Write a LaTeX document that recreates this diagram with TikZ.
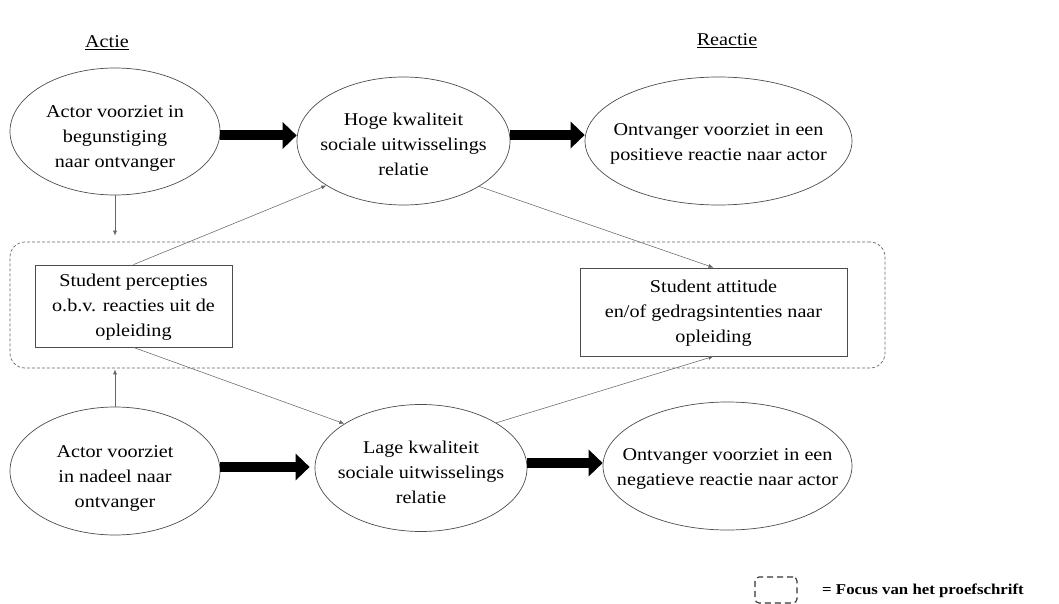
\documentclass[tikz,border=0pt]{standalone}
\usepackage{fontspec}
\setmainfont{Liberation Serif}
\usepackage{graphicx}
\usetikzlibrary{arrows.meta,shapes.geometric,calc}
\newcommand\ml[1]{\scalebox{1.12}[1]{\begin{tabular}{@{}c@{}}#1\end{tabular}}}
\begin{document}
\begin{tikzpicture}[x=1pt,y=-1pt,
 ell/.style={ellipse, draw=black!70, line width=0.7pt, inner sep=0pt},
 bx/.style={rectangle, draw=black!70, line width=0.8pt, inner sep=0pt, font=\fontsize{18}{25}\selectfont},
 txt/.style={inner sep=0pt, font=\fontsize{18}{25}\selectfont},
 big/.style={line width=10pt, -{Triangle[width=26pt,length=14pt]}},
 thinarr/.style={draw=black!60, line width=0.55pt, -{Latex[length=5pt,width=4pt]}},
 ]
\useasboundingbox (0,0) rectangle (1059,604);

% focus frame
\node[draw=black!60, dash pattern=on 3pt off 2pt, rounded corners=15pt, line width=0.7pt,
      minimum width=875pt, minimum height=126pt, inner sep=0pt] (focus) at (447.5,305) {};

% ellipses
\node[ell, minimum width=210pt, minimum height=127pt] (e1) at (115,131.5) {};
\node[ell, minimum width=213pt, minimum height=128pt] (e2) at (403.5,141) {};
\node[ell, minimum width=267pt, minimum height=128pt] (e3) at (718.5,141) {};
\node[ell, minimum width=210pt, minimum height=128pt] (e4) at (115,471) {};
\node[ell, minimum width=212pt, minimum height=127pt] (e5) at (421,468) {};
\node[ell, minimum width=249pt, minimum height=128pt] (e6) at (727.5,466) {};

\node[txt] (t1) at ([yshift=-6pt]e1.center) {\ml{Actor voorziet in\\begunstiging\\naar ontvanger}};
\node[txt] (t2) at ([yshift=-5pt]e2.center) {\ml{Hoge kwaliteit\\sociale uitwisselings\\relatie}};
\node[txt] (t3) at ([yshift=-2pt]e3.center) {\ml{Ontvanger voorziet in een\\positieve reactie naar actor}};
\node[txt] (t4) at ([yshift=-6pt]e4.center) {\ml{Actor voorziet\\in nadeel naar\\ontvanger}};
\node[txt] (t5) at ([yshift=-5pt]e5.center) {\ml{Lage kwaliteit\\sociale uitwisselings\\relatie}};
\node[txt] (t6) at ([yshift=-2pt]e6.center) {\ml{Ontvanger voorziet in een\\negatieve reactie naar actor}};

% boxes
\node[bx, minimum width=197pt, minimum height=82pt] (b1) at (133.5,306) {\ml{Student percepties\\o.b.v. reacties uit de\\opleiding}};
\node[bx, minimum width=267pt, minimum height=88pt] (b2) at (713.5,312) {\ml{Student attitude\\en/of gedragsintenties naar\\opleiding}};

% headings
\node[txt] (actie) at (107,43) {\scalebox{1.12}[1]{\underline{Actie}}};
\node[txt] (reactie) at (727,41) {\scalebox{1.12}[1]{\underline{Reactie}}};

% thick arrows
\draw[big] ([yshift=-4pt]e1.east) -- ([yshift=-4pt]e1.east -| e2.west);
\draw[big] ([yshift=6pt]e2.east) -- ([yshift=6pt]e2.east -| e3.west);
\draw[big, shorten >=5pt] ([yshift=4pt]e4.east) -- ([yshift=4pt]e4.east -| e5.west);
\draw[big] ([yshift=5pt]e5.east) -- ([yshift=5pt]e5.east -| e6.west);

% thin arrows
\draw[thinarr] (e1.south) -- ($(e1.south |- focus.north)+(0,-6)$);
\draw[thinarr] (e4.north) -- ($(e4.north |- focus.south)+(0,1)$);
\draw[thinarr] (b1.north) -- (e2.210);
\draw[thinarr] (e2.329) -- (b2.north);
\draw[thinarr] (b1.south) -- (e5.150);
\draw[thinarr] (e5.31) -- (b2.south);

% legend
\node[draw=black!80, dash pattern=on 6pt off 4pt, rounded corners=4pt, line width=1.1pt,
      minimum width=42pt, minimum height=26pt, inner sep=0pt] (leg) at (776,590) {};
\node[anchor=west, inner sep=0pt, font=\fontsize{15}{17}\selectfont\bfseries] (legt) at (822,591)
  {\scalebox{1.12}[1]{= Focus van het proefschrift}};
\end{tikzpicture}
\end{document}
